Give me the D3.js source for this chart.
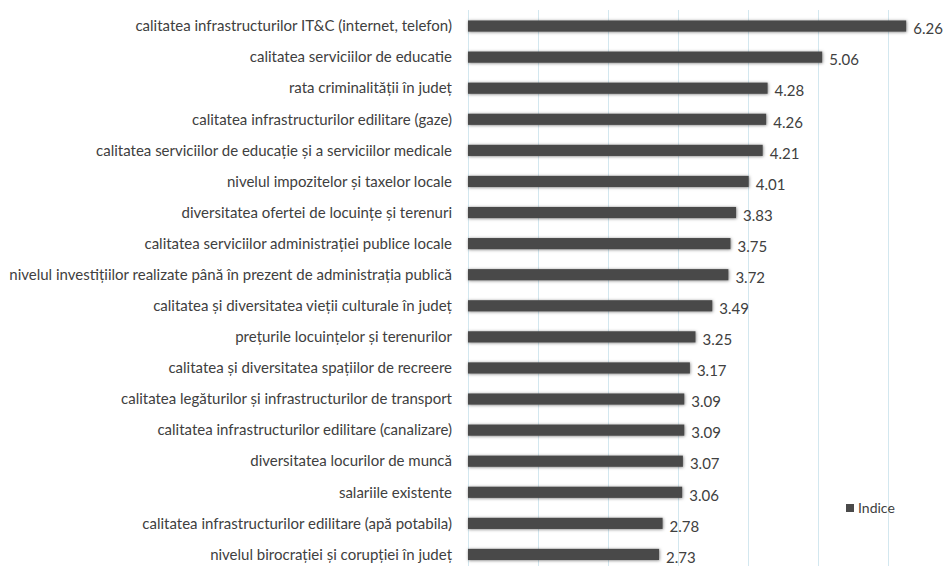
<!DOCTYPE html>
<html>
<head>
<meta charset="utf-8">
<script src="https://cdn.jsdelivr.net/npm/d3@7"></script>
<style>
  body { margin: 0; background: #fff; }
  text { font-family: Lato, "Open Sans", sans-serif; fill: #404040; }
</style>
</head>
<body>
<div id="chart"></div>
<script>
// categories, top to bottom
var categories = [
    "calitatea infrastructurilor IT&C (internet, telefon)",
    "calitatea serviciilor de educatie",
    "rata criminalității în județ",
    "calitatea infrastructurilor edilitare (gaze)",
    "calitatea serviciilor de educație și a serviciilor medicale",
    "nivelul impozitelor și taxelor locale",
    "diversitatea ofertei de locuințe și terenuri",
    "calitatea serviciilor administrației publice locale",
    "nivelul investițiilor realizate până în prezent de administrația publică",
    "calitatea și diversitatea vieții culturale în județ",
    "prețurile locuințelor și terenurilor",
    "calitatea și diversitatea spațiilor de recreere",
    "calitatea legăturilor și infrastructurilor de transport",
    "calitatea infrastructurilor edilitare (canalizare)",
    "diversitatea locurilor de muncă",
    "salariile existente",
    "calitatea infrastructurilor edilitare (apă potabila)",
    "nivelul birocrației și corupției în județ"
];
var indice = [6.26, 5.06, 4.28, 4.26, 4.21, 4.01, 3.83, 3.75, 3.72, 3.49, 3.25, 3.17, 3.09, 3.09, 3.07, 3.06, 2.78, 2.73];
var gridTicks = [0, 1, 2, 3, 4, 5, 6];
var seriesName = "Indice";

var width = 952, height = 566;

var svg = d3.select("#chart").append("svg")
    .attr("width", width)
    .attr("height", height);

// soft glow/shadow round the bars
var defs = svg.append("defs");
var f = defs.append("filter").attr("id", "shadow")
    .attr("x", "-5%").attr("y", "-80%").attr("width", "110%").attr("height", "260%");
f.append("feDropShadow")
    .attr("dx", 0.5).attr("dy", 0.5)
    .attr("stdDeviation", 1.8)
    .attr("flood-color", "#000").attr("flood-opacity", 0.5);

var x = d3.scaleLinear().domain([0, 7]).range([468, 958]);
var y = d3.scaleBand().domain(categories).range([10.5, 570]).paddingInner(0.64).paddingOuter(0.32);

// gridlines
svg.selectAll("line.grid")
    .data(gridTicks)
    .enter().append("line")
    .attr("class", "grid")
    .attr("x1", function(d) { return Math.round(x(d)) + 0.5; })
    .attr("x2", function(d) { return Math.round(x(d)) + 0.5; })
    .attr("y1", 10)
    .attr("y2", height)
    .attr("stroke", "#d3e7ef")
    .attr("stroke-width", 1);

// bars
svg.selectAll("rect.bar")
    .data(indice)
    .enter().append("rect")
    .attr("class", "bar")
    .attr("x", x(0))
    .attr("y", function(d, i) { return y(categories[i]); })
    .attr("width", function(d) { return x(d) - x(0); })
    .attr("height", y.bandwidth())
    .attr("fill", "#4a4a4a")
    .attr("filter", "url(#shadow)");

// category labels
svg.selectAll("text.cat")
    .data(categories)
    .enter().append("text")
    .attr("class", "cat")
    .attr("x", x(0) - 16)
    .attr("y", function(d) { return y(d) + y.bandwidth() / 2; })
    .attr("dy", "0.35em")
    .attr("text-anchor", "end")
    .style("font-size", "15px")
    .text(function(d) { return d; });

// value labels
svg.selectAll("text.val")
    .data(indice)
    .enter().append("text")
    .attr("class", "val")
    .attr("x", function(d) { return x(d) + 7; })
    .attr("y", function(d, i) { return y(categories[i]) + y.bandwidth() / 2 + 3; })
    .attr("dy", "0.35em")
    .style("font-size", "15px")
    .text(function(d) { return d.toFixed(2); });

// legend
var legend = svg.append("g").attr("transform", "translate(846,508)");
legend.append("rect")
    .attr("x", 0).attr("y", -4)
    .attr("width", 8).attr("height", 8)
    .attr("fill", "#4a4a4a");
legend.append("text")
    .attr("x", 12).attr("y", 0)
    .attr("dy", "0.35em")
    .style("font-size", "14px")
    .text(seriesName);
</script>
</body>
</html>
